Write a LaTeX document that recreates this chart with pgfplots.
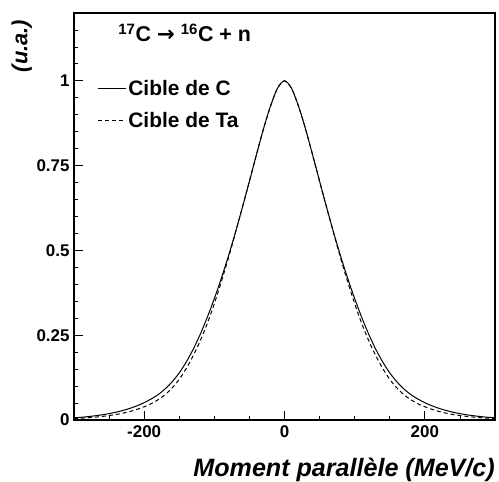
\documentclass[border=0pt]{standalone}
\usepackage{fontspec}
\setmainfont{Liberation Sans}
\newfontfamily\arrowfont{DejaVu Sans}
\usepackage{pgfplots}
\pgfplotsset{compat=1.18}
\usepackage{pgfplotstable}

% solid: C target, dashed: Ta target (symmetric in x)
\pgfplotstableread{
x y
-300 0.0064
-290 0.0080
-280 0.0100
-270 0.0124
-260 0.0153
-250 0.0188
-240 0.0231
-230 0.0283
-220 0.0345
-210 0.042
-200 0.051
-190 0.062
-180 0.075
-170 0.092
-160 0.113
-150 0.139
-140 0.171
-130 0.209
-120 0.253
-110 0.303
-100 0.358
-90 0.418
-80 0.483
-70 0.553
-60 0.627
-50 0.704
-40 0.782
-30 0.858
-20 0.925
-10 0.978
0 1.000
10 0.978
20 0.925
30 0.858
40 0.782
50 0.704
60 0.627
70 0.553
80 0.483
90 0.418
100 0.358
110 0.303
120 0.253
130 0.209
140 0.171
150 0.139
160 0.113
170 0.092
180 0.075
190 0.062
200 0.051
210 0.042
220 0.0345
230 0.0283
240 0.0231
250 0.0188
260 0.0153
270 0.0124
280 0.0100
290 0.0080
300 0.0064
}\cible

\pgfplotstableread{
x y
-300 0.0043
-290 0.0054
-280 0.0067
-270 0.0084
-260 0.0105
-250 0.0131
-240 0.0163
-230 0.0203
-220 0.0253
-210 0.0315
-200 0.039
-190 0.048
-180 0.060
-170 0.075
-160 0.095
-150 0.120
-140 0.152
-130 0.190
-120 0.234
-110 0.285
-100 0.343
-90 0.408
-80 0.477
-70 0.551
-60 0.627
-50 0.704
-40 0.782
-30 0.858
-20 0.925
-10 0.978
0 1.000
10 0.978
20 0.925
30 0.858
40 0.782
50 0.704
60 0.627
70 0.551
80 0.477
90 0.408
100 0.343
110 0.285
120 0.234
130 0.190
140 0.152
150 0.120
160 0.095
170 0.075
180 0.060
190 0.048
200 0.039
210 0.0315
220 0.0253
230 0.0203
240 0.0163
250 0.0131
260 0.0105
270 0.0084
280 0.0067
290 0.0054
300 0.0043
}\cibleTa

\begin{document}
\begin{tikzpicture}
\useasboundingbox (-74bp,-62bp) rectangle (425bp,420bp);
\begin{axis}[
scale only axis,
width=421bp, height=407bp,
xmin=-300, xmax=300,
ymin=0, ymax=1.2,
clip mode=individual,
axis line style={line width=1.1pt},
tick pos=left,
tick align=inside,
major tick length=9bp,
minor tick length=4.5bp,
tick style={line width=0.8pt, black},
xtick={-200,0,200},
xticklabels={-200,0,200},
minor xtick={-250,-150,-100,-50,50,100,150,250},
ytick={0,0.25,0.5,0.75,1},
yticklabels={0,0.25,0.5,0.75,1},
minor ytick={0.05,0.1,0.15,0.2,0.3,0.35,0.4,0.45,0.55,0.6,0.65,0.7,0.8,0.85,0.9,0.95,1.05,1.1,1.15},
/pgf/number format/assume math mode=true,
ticklabel style={font=\fontsize{17}{20}\selectfont\bfseries},
xticklabel style={yshift=-2bp},
yticklabel style={xshift=-1bp},
legend style={at={(axis description cs:0.055,0.84)}, anchor=north west,
  draw=none, fill=none, inner sep=0pt, row sep=11bp,
  font=\fontsize{21}{24}\selectfont\bfseries},
legend cell align=left,
legend image code/.code={\draw[#1] (0bp,0bp) -- (28bp,0bp);},
]
\addplot[black, line width=1pt, smooth, mark=none] table {\cible};
\addlegendentry{Cible de C}
\addplot[black, line width=1pt, smooth, mark=none, dash pattern=on 4bp off 3bp] table {\cibleTa};
\addlegendentry{Cible de Ta}
\node[anchor=base west, font=\fontsize{21.5}{24}\selectfont\bfseries, inner sep=0pt]
  at (axis description cs:0.105,0.929) {\textsuperscript{17}C {\arrowfont\bfseries →} \textsuperscript{16}C + n};
\node[anchor=base east, font=\fontsize{25.2}{29}\selectfont\bfseries\itshape, inner sep=0pt]
  at (axis description cs:1,-0.139) {Moment parallèle (MeV/c)};
\node[rotate=90, anchor=center, font=\fontsize{22}{26}\selectfont\bfseries\itshape, inner sep=0pt]
  at (axis description cs:-0.124,0.919) {(u.a.)};
\end{axis}
\end{tikzpicture}
\end{document}
